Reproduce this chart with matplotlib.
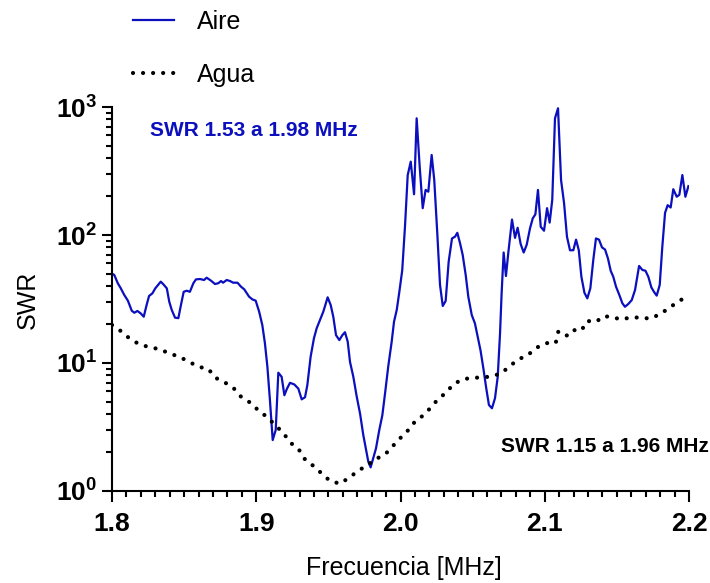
import numpy as np
import matplotlib
matplotlib.use("Agg")
import matplotlib.pyplot as plt
from matplotlib.ticker import MultipleLocator, LogLocator, NullFormatter, FixedLocator

plt.rcParams['font.family'] = ['Liberation Sans', 'DejaVu Sans']
plt.rcParams['mathtext.fontset'] = 'custom'
plt.rcParams['mathtext.rm'] = 'Liberation Sans'
plt.rcParams['mathtext.bf'] = 'Liberation Sans:bold'

# === Daten: Aire ===
aire_f = [1.8000, 1.8016, 1.8040, 1.8060, 1.8085, 1.8110, 1.8137, 1.8155, 1.8176, 1.8199,
          1.8220, 1.8240, 1.8257, 1.8280, 1.8300, 1.8338, 1.8356, 1.8380, 1.8397, 1.8414,
          1.8437, 1.8460, 1.8478, 1.8497, 1.8518, 1.8540, 1.8564, 1.8582, 1.8610, 1.8638,
          1.8656, 1.8686, 1.8714, 1.8737, 1.8756, 1.8770, 1.8795, 1.8818, 1.8840, 1.8870,
          1.8894, 1.8917, 1.8950, 1.8973, 1.8996, 1.9020, 1.9042, 1.9060, 1.9077, 1.9095,
          1.9114, 1.9135, 1.9153, 1.9176, 1.9195, 1.9213, 1.9234, 1.9264, 1.9292, 1.9315,
          1.9338, 1.9354, 1.9377, 1.9400, 1.9419, 1.9442, 1.9465, 1.9495, 1.9516, 1.9534,
          1.9553, 1.9576, 1.9597, 1.9615, 1.9634, 1.9650, 1.9673, 1.9696, 1.9720, 1.9742,
          1.9766, 1.9777, 1.9793, 1.9811, 1.9830, 1.9853, 1.9874, 1.9893, 1.9915, 1.9939,
          1.9955, 1.9974, 1.9992, 2.0012, 2.0031, 2.0050, 2.0071, 2.0094, 2.0112, 2.0133,
          2.0154, 2.0174, 2.0193, 2.0216, 2.0234, 2.0255, 2.0274, 2.0293, 2.0313, 2.0334,
          2.0357, 2.0378, 2.0394, 2.0413, 2.0431, 2.0452, 2.0470, 2.0494, 2.0516, 2.0540,
          2.0555, 2.0575, 2.0593, 2.0613, 2.0634, 2.0655, 2.0674, 2.0690, 2.0701, 2.0715,
          2.0731, 2.0747, 2.0773, 2.0794, 2.0812, 2.0833, 2.0854, 2.0875, 2.0898, 2.0917,
          2.0935, 2.0953, 2.0972, 2.0995, 2.1016, 2.1034, 2.1052, 2.1071, 2.1092, 2.1113,
          2.1134, 2.1154, 2.1175, 2.1198, 2.1217, 2.1236, 2.1254, 2.1275, 2.1295, 2.1316,
          2.1337, 2.1355, 2.1376, 2.1397, 2.1418, 2.1438, 2.1457, 2.1475, 2.1494, 2.1517,
          2.1538, 2.1556, 2.1579, 2.1603, 2.1626, 2.1654, 2.1677, 2.1698, 2.1718, 2.1739,
          2.1757, 2.1776, 2.1797, 2.1815, 2.1834, 2.1852, 2.1873, 2.1891, 2.1915, 2.1933,
          2.1954, 2.1975, 2.1996]
aire_swr = [50.0, 48.7, 42.0, 38.5, 34.0, 30.7, 25.6, 24.7, 25.5, 24.4,
            23.0, 28.4, 33.4, 35.0, 38.3, 43.2, 41.2, 38.3, 30.1, 26.0,
            22.6, 22.4, 28.4, 36.0, 36.7, 36.0, 42.0, 45.0, 45.3, 44.5,
            46.4, 44.0, 41.4, 42.0, 43.7, 42.4, 44.5, 43.7, 42.4, 42.4,
            39.5, 37.6, 33.0, 31.4, 30.7, 25.2, 19.8, 14.3, 9.4, 5.1,
            2.5, 3.0, 8.4, 7.8, 5.6, 6.3, 7.0, 6.8, 6.3, 5.2,
            5.4, 6.7, 11.2, 15.6, 18.7, 21.7, 25.2, 32.6, 28.4, 23.0,
            16.5, 15.1, 16.5, 17.4, 14.7, 10.2, 7.8, 5.5, 4.0, 2.74,
            1.97, 1.69, 1.53, 1.80, 2.15, 3.0, 3.9, 5.8, 9.4, 14.7,
            21.0, 26.0, 36.0, 53.0, 116.0, 294.0, 374.0, 208.0, 816.0, 342.0,
            162.0, 225.0, 218.0, 422.0, 269.0, 103.0, 40.7, 27.9, 30.5, 62.0,
            94.0, 97.0, 104.0, 86.0, 70.0, 48.7, 33.0, 23.7, 20.4, 15.1,
            12.5, 9.0, 6.5, 4.7, 4.43, 5.3, 7.8, 17.0, 35.0, 73.0,
            47.8, 72.0, 132.0, 95.0, 114.0, 85.0, 73.0, 84.0, 113.0, 135.0,
            145.0, 225.0, 116.0, 108.0, 162.0, 125.0, 188.0, 816.0, 977.0, 269.0,
            177.0, 97.0, 76.0, 76.0, 92.0, 76.0, 47.2, 35.4, 32.0, 38.3,
            64.6, 94.0, 92.0, 80.0, 77.0, 65.7, 52.6, 47.2, 39.5, 34.0,
            29.3, 27.5, 28.9, 31.0, 37.2, 57.3, 53.3, 52.6, 47.2, 39.0,
            36.0, 33.6, 40.7, 81.0, 149.0, 171.0, 164.0, 228.0, 199.0, 206.0,
            294.0, 199.0, 241.0]

# === Daten: Agua ===
agua_f = [1.8000, 1.8060, 1.8120, 1.8189, 1.8259, 1.8333, 1.8402, 1.8458, 1.8529, 1.8598,
          1.8668, 1.8714, 1.8781, 1.8841, 1.8894, 1.8962, 1.9014, 1.9077, 1.9130, 1.9188,
          1.9234, 1.9294, 1.9336, 1.9396, 1.9454, 1.9511, 1.9581, 1.9643, 1.9708, 1.9772,
          1.9830, 1.9893, 1.9943, 1.9997, 2.0050, 2.0100, 2.0158, 2.0209, 2.0257, 2.0315,
          2.0366, 2.0428, 2.0500, 2.0572, 2.0637, 2.0699, 2.0759, 2.0819, 2.0882, 2.0939,
          2.1009, 2.1076, 2.1094, 2.1150, 2.1189, 2.1254, 2.1293, 2.1358, 2.1404, 2.1466,
          2.1526, 2.1591, 2.1658, 2.1730, 2.1797, 2.1843, 2.1903, 2.1958]
agua_swr = [19.8, 17.8, 15.6, 14.0, 13.3, 12.8, 11.8, 11.3, 10.3, 9.35,
            9.0, 7.7, 7.06, 6.4, 5.46, 4.87, 4.27, 3.77, 3.28, 2.84,
            2.4, 2.12, 1.78, 1.57, 1.37, 1.2, 1.14, 1.27, 1.44, 1.6,
            1.78, 1.93, 2.22, 2.58, 2.96, 3.48, 3.9, 4.47, 5.17, 5.86,
            6.8, 7.45, 7.67, 7.7, 7.9, 8.3, 9.5, 10.7, 11.5, 13.1,
            14.3, 14.3, 17.6, 16.3, 18.1, 17.9, 21.3, 21.0, 23.2, 22.9,
            21.9, 22.6, 22.7, 22.2, 24.0, 26.0, 29.0, 31.8]

azul = '#0B0FBE'

fig = plt.figure(figsize=(7.1, 5.83), dpi=100)
ax = fig.add_axes([112/710, 1-491/583, 577/710, 384/583])

ax.plot(aire_f, aire_swr, color=azul, lw=1.6, label='Aire')
ax.plot(agua_f, agua_swr, color='black', lw=3.0, linestyle=(0, (0.01, 2.4)),
        dash_capstyle='round', label='Agua')

ax.set_yscale('log')
ax.set_xlim(1.8, 2.2)
ax.set_ylim(1, 1000)

# Achsen im Prism-Stil
for s in ['top', 'right']:
    ax.spines[s].set_visible(False)
for s in ['left', 'bottom']:
    ax.spines[s].set_linewidth(1.5)

ax.xaxis.set_major_locator(MultipleLocator(0.1))
ax.xaxis.set_minor_locator(MultipleLocator(0.01))
ax.set_xticks([1.8, 1.9, 2.0, 2.1, 2.2])
ax.set_xticklabels(['1.8', '1.9', '2.0', '2.1', '2.2'], fontsize=19, fontweight='bold')

ax.yaxis.set_major_locator(FixedLocator([1, 10, 100, 1000]))
ax.yaxis.set_minor_locator(LogLocator(base=10, subs=np.arange(2, 10)))
ax.yaxis.set_minor_formatter(NullFormatter())
ax.set_yticks([1, 10, 100, 1000])
ax.set_yticklabels([r'$\mathbf{10^{0}}$', r'$\mathbf{10^{1}}$',
                    r'$\mathbf{10^{2}}$', r'$\mathbf{10^{3}}$'], fontsize=19)

ax.tick_params(axis='x', which='major', direction='out', length=8, width=1.5, pad=7)
ax.tick_params(axis='x', which='minor', direction='out', length=4.5, width=1.5)
ax.tick_params(axis='y', which='major', direction='out', length=7.5, width=1.5, pad=3)
ax.tick_params(axis='y', which='minor', direction='out', length=4, width=1.5)

ax.set_xlabel('Frecuencia [MHz]', fontsize=18)
ax.set_ylabel('SWR', fontsize=18)
ax.xaxis.set_label_coords(0.506, -0.17)
ax.yaxis.set_label_coords(-0.125, 0.497)

fig.text(254/710, 1-130/583, 'SWR 1.53 a 1.98 MHz', color=azul, fontsize=15,
         fontweight='bold', ha='center', va='center')
fig.text(605/710, 1-447/583, 'SWR 1.15 a 1.96 MHz', color='black', fontsize=15,
         fontweight='bold', ha='center', va='center')

fig.legend(loc='upper left', bbox_to_anchor=(133/710, 1-10/583), frameon=False,
           fontsize=18, handlelength=1.65, handletextpad=0.9, labelspacing=1.15,
           borderpad=0, borderaxespad=0)

fig.savefig('out.png', dpi=100)
